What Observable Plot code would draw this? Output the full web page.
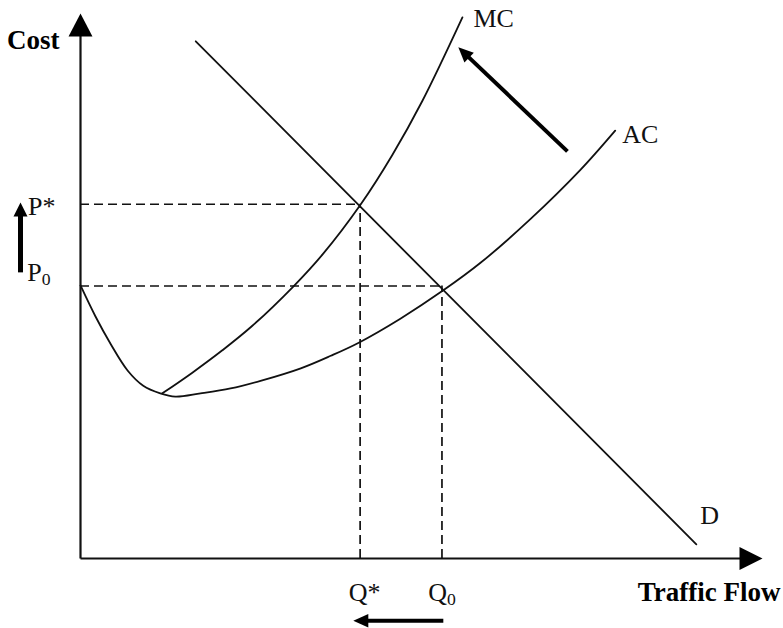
<!DOCTYPE html>
<html><head><meta charset="utf-8">
<script src="https://cdn.jsdelivr.net/npm/d3@7"></script>
<script src="https://cdn.jsdelivr.net/npm/@observablehq/plot@0.6"></script>
<style>html,body{margin:0;padding:0;background:#fff}</style>
</head><body><div id="chart"></div>
<script>
// Marginal cost curve (traffic flow, cost)
const mcFlow = [12.0, 16.4, 20.8, 25.2, 31.2, 35.5, 41.1, 45.7, 50.1, 56.0];
const mcCost = [30.3, 34.1, 38.2, 42.7, 49.9, 55.8, 65.0, 74.0, 83.9, 99.3];
// Average cost curve
const acFlow = [0, 2.2, 4.4, 6.9, 9.2, 11.7, 13.9, 17.6, 22.0, 26.4, 32.3, 36.7, 40.8, 46.9, 53.2, 58.7, 66.0, 73.3, 78.4];
const acCost = [50.1, 44.4, 39.4, 34.5, 31.7, 30.3, 29.7, 30.3, 31.2, 32.6, 34.9, 37.2, 39.6, 44.0, 49.2, 54.3, 62.3, 71.3, 78.5];
// Demand line
const demandFlow = [16.9, 90.3];
const demandCost = [94.9, 2.6];
// Equilibria
const Qstar = 41, Q0 = 53;
const Pstar = 65, P0 = 50;
// Shift arrows: [fromFlow, fromCost, toFlow, toCost]
const priceShift = [-8.8, 52.5, -8.8, 65.3];
const mcShift = [71.4, 74.7, 55.4, 93.8];
const flowShift = [53.2, -11.4, 40.0, -11.4];
// Text
const axisTitles = ["Traffic Flow", "Cost"];
const curveLabels = ["MC", "AC", "D"];
const priceLabels = ["P*", "P0"];
const flowLabels = ["Q*", "Q0"];
const xMax = 100, yMax = 100;

const ink = "#111";
const mc = mcFlow.map((x, i) => ({x, y: mcCost[i]}));
const ac = acFlow.map((x, i) => ({x, y: acCost[i]}));
const demand = demandFlow.map((x, i) => ({x, y: demandCost[i]}));
const toArrow = a => ({x1: a[0], y1: a[1], x2: a[2], y2: a[3]});

function head(aspect) {
  return {
    draw(ctx, size) {
      const L = Math.sqrt(size / Math.PI);
      const w = L * aspect;
      ctx.moveTo(0, 0);
      ctx.lineTo(w, L);
      ctx.lineTo(-w, L);
      ctx.closePath();
    }
  };
}

const font = "Liberation Serif, Times New Roman, serif";

const svg = Plot.plot({
  width: 783,
  height: 628,
  marginLeft: 80,
  marginRight: 21,
  marginTop: 13,
  marginBottom: 70,
  x: {domain: [0, xMax], axis: null},
  y: {domain: [0, yMax], axis: null},
  style: {background: "#fff", fontFamily: font, overflow: "visible"},
  marks: [
    // dashed guides
    Plot.ruleY([Pstar], {x1: 0, x2: Qstar, stroke: ink, strokeWidth: 1.7, strokeDasharray: "9,5"}),
    Plot.ruleY([P0], {x1: 0, x2: Q0, stroke: ink, strokeWidth: 1.7, strokeDasharray: "9,5"}),
    Plot.ruleX([Qstar], {y1: 0, y2: Pstar, stroke: ink, strokeWidth: 1.7, strokeDasharray: "9,5"}),
    Plot.ruleX([Q0], {y1: 0, y2: P0, stroke: ink, strokeWidth: 1.7, strokeDasharray: "9,5"}),
    // curves
    Plot.line(demand, {x: "x", y: "y", stroke: ink, strokeWidth: 1.8}),
    Plot.line(ac, {x: "x", y: "y", stroke: ink, strokeWidth: 1.8, curve: "catmull-rom"}),
    Plot.line(mc, {x: "x", y: "y", stroke: ink, strokeWidth: 1.8, curve: "catmull-rom"}),
    // axes
    Plot.arrow([{x1: 0, y1: 0, x2: 0, y2: yMax}, {x1: 0, y1: 0, x2: xMax, y2: 0}],
      {x1: "x1", y1: "y1", x2: "x2", y2: "y2", headLength: 0, insetEnd: 18, stroke: ink, strokeWidth: 2.2, strokeLinecap: "butt"}),
    Plot.dot([{x: 0, y: yMax}], {x: "x", y: "y", r: 23, symbol: head(0.52), fill: "#000", stroke: "none", rotate: 0}),
    Plot.dot([{x: xMax, y: 0}], {x: "x", y: "y", r: 23, symbol: head(0.5), fill: "#000", stroke: "none", rotate: 90}),
    // shift arrows
    Plot.arrow([toArrow(priceShift)], {x1: "x1", y1: "y1", x2: "x2", y2: "y2", headLength: 0, insetEnd: 11, stroke: "#000", strokeWidth: 5, strokeLinecap: "butt"}),
    Plot.dot([{x: priceShift[2], y: priceShift[3]}], {x: "x", y: "y", r: 14, symbol: head(0.5), fill: "#000", stroke: "none", rotate: 0}),
    Plot.arrow([toArrow(mcShift)], {x1: "x1", y1: "y1", x2: "x2", y2: "y2", headLength: 0, insetEnd: 12, stroke: "#000", strokeWidth: 4, strokeLinecap: "butt"}),
    Plot.dot([{x: mcShift[2], y: mcShift[3]}], {x: "x", y: "y", r: 15, symbol: head(0.45), fill: "#000", stroke: "none", rotate: -46}),
    Plot.arrow([toArrow(flowShift)], {x1: "x1", y1: "y1", x2: "x2", y2: "y2", headLength: 0, insetEnd: 12, stroke: "#000", strokeWidth: 4, strokeLinecap: "butt"}),
    Plot.dot([{x: flowShift[2], y: flowShift[3]}], {x: "x", y: "y", r: 15, symbol: head(0.45), fill: "#000", stroke: "none", rotate: -90}),
    // axis titles
    Plot.text([axisTitles[0]], {x: xMax, y: 0, text: d => d, textAnchor: "end", dx: 18, dy: 33.4, fontSize: 27, fontWeight: "bold", fill: "#000"}),
    Plot.text([axisTitles[1]], {x: 0, y: yMax, text: d => d, textAnchor: "end", dx: -21, dy: 26.4, fontSize: 27, fontWeight: "bold", fill: "#000"}),
    // curve labels
    Plot.text([curveLabels[0]], {x: mcFlow[mcFlow.length - 1], y: mcCost[mcCost.length - 1], text: d => d, textAnchor: "start", dx: 11, dy: 1.6, fontSize: 26, fill: ink}),
    Plot.text([curveLabels[1]], {x: acFlow[acFlow.length - 1], y: acCost[acCost.length - 1], text: d => d, textAnchor: "start", dx: 7, dy: 3.7, fontSize: 26, fill: ink}),
    Plot.text([curveLabels[2]], {x: demandFlow[1], y: demandCost[1], text: d => d, textAnchor: "start", dx: 4, dy: -29, fontSize: 26, fill: ink}),
    // price / flow labels
    Plot.text([priceLabels[0]], {x: 0, y: Pstar, text: d => d, textAnchor: "end", dx: -25, dy: 2.9, fontSize: 26, fill: ink}),
    Plot.text([priceLabels[1]], {x: 0, y: P0, text: d => d, textAnchor: "end", dx: -30, dy: -13.8, fontSize: 26, fill: ink}),
    Plot.text([flowLabels[0]], {x: Qstar, y: 0, text: d => d, textAnchor: "middle", dx: 4.5, dy: 33.7, fontSize: 26, fill: ink}),
    Plot.text([flowLabels[1]], {x: Q0, y: 0, text: d => d, textAnchor: "middle", dx: 0, dy: 33.7, fontSize: 26, fill: ink})
  ]
});

// render "0" as subscript in P0 / Q0
const ns = "http://www.w3.org/2000/svg";
svg.querySelectorAll("text").forEach(t => {
  const s = t.textContent;
  if (/^[PQ]0$/.test(s)) {
    t.textContent = s[0];
    const ts = document.createElementNS(ns, "tspan");
    ts.setAttribute("font-size", "0.68em");
    ts.setAttribute("dy", "0.28em");
    ts.textContent = "0";
    t.appendChild(ts);
  }
});

document.getElementById("chart").appendChild(svg);
</script>
</body></html>
